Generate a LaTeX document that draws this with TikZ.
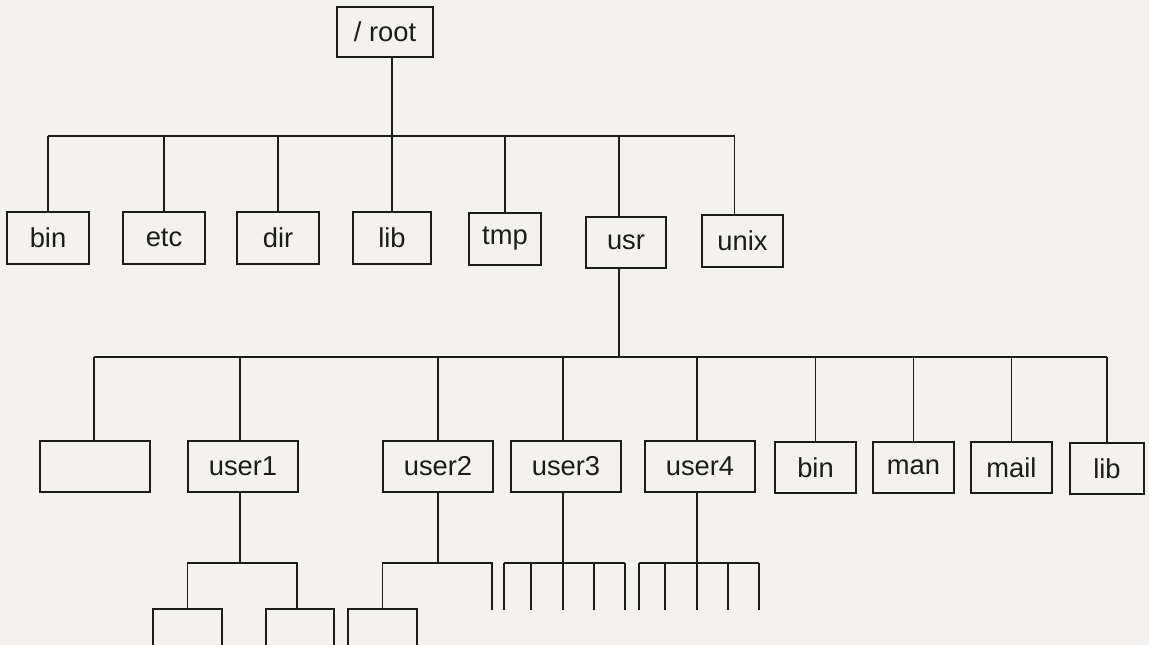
\documentclass[tikz,border=0pt]{standalone}
\usepackage{fontspec}
\setmainfont{Liberation Sans}
\usetikzlibrary{calc}
\definecolor{paper}{RGB}{243,242,239}
\definecolor{ink}{RGB}{28,28,28}
\tikzset{
  tbox/.style={draw=ink, line width=1.4pt, inner sep=0pt, text=ink,
    font=\fontsize{20.5}{24}\selectfont},
  wire/.style={draw=ink, line width=1.4pt},
}
\newcommand{\tbox}[6]{\node[tbox, minimum width={(#4-#2)*0.75pt}, minimum height={(#5-#3)*0.75pt}] (#1) at ({(#2+#4)/2},{(#3+#5)/2}) {#6};}
\begin{document}
\begin{tikzpicture}[x=0.75pt,y=-0.75pt]
\fill[paper] (0,0) rectangle (1149,645);
\useasboundingbox (0,0) rectangle (1149,645);
\clip (0,0) rectangle (1149,645);
% bus levels
\coordinate (busA) at (0,136);
\coordinate (busB) at (0,357);
\coordinate (busC) at (0,563);
\coordinate (endC) at (0,610);
% root
\tbox{root}{337}{7}{433}{57}{/ root}
% first row
\tbox{bin}{7}{212}{89}{264}{bin}
\tbox{etc}{123}{212}{205}{264}{etc}
\tbox{dir}{237}{212}{319}{264}{dir}
\tbox{lib}{353}{212}{431}{264}{lib}
\tbox{tmp}{469}{213}{541}{265}{tmp}
\tbox{usr}{586}{217}{666}{268}{usr}
\tbox{unix}{702}{215}{783}{267}{unix}
% second row
\tbox{blank}{40}{441}{150}{492}{}
\tbox{userA}{188}{441}{298}{492}{user1}
\tbox{userB}{383}{441}{493}{492}{user2}
\tbox{userC}{511}{441}{621}{492}{user3}
\tbox{userD}{645}{441}{755}{492}{user4}
\tbox{binB}{775}{442}{856}{493}{bin}
\tbox{man}{873}{442}{954}{493}{man}
\tbox{mail}{971}{442}{1052}{493}{mail}
\tbox{libB}{1070}{443}{1144}{494}{lib}
% third row (cut by the page edge)
\tbox{leafA}{153}{609}{222}{690}{}
\tbox{leafB}{266}{609}{334}{690}{}
\tbox{leafC}{348}{609}{417}{690}{}
% root to first row
\draw[wire] (root.south -| lib.north) -- (lib.north);
\draw[wire] (bin.north |- busA) -- ([xshift=-6pt]unix.north |- busA);
\foreach \n in {bin,etc,dir,tmp}{\draw[wire] (\n.north |- busA) -- (\n.north);}
\draw[wire] ([xshift=-5pt]usr.north |- busA) -- ([xshift=-5pt]usr.north);
\draw[wire] ([xshift=-6pt]unix.north |- busA) -- ([xshift=-6pt]unix.north);
% usr to second row
\draw[wire] ([xshift=-5pt]usr.south) -- ([xshift=-5pt]usr.south |- busB);
\draw[wire] ([xshift=-1pt]blank.north |- busB) -- (libB.north |- busB);
\draw[wire] ([xshift=-1pt]blank.north |- busB) -- ([xshift=-1pt]blank.north);
\draw[wire] ([xshift=-2pt]userA.north |- busB) -- ([xshift=-2pt]userA.north);
\draw[wire] (userB.north |- busB) -- (userB.north);
\draw[wire] ([xshift=-2pt]userC.north |- busB) -- ([xshift=-2pt]userC.north);
\draw[wire] ([xshift=-2pt]userD.north |- busB) -- ([xshift=-2pt]userD.north);
\foreach \n in {binB,man,mail,libB}{\draw[wire] (\n.north |- busB) -- (\n.north);}
% user1 subtree
\draw[wire] ([xshift=-2pt]userA.south) -- ([xshift=-2pt]userA.south |- busC);
\draw[wire] (leafA.north) -- (leafA.north |- busC) -- ([xshift=-2pt]leafB.north |- busC) -- ([xshift=-2pt]leafB.north);
% user2 subtree
\draw[wire] (userB.south) -- (userB.south |- busC);
\coordinate (uBend) at (492,563);
\coordinate (uBdrop) at (492,610);
\draw[wire] (leafC.north) -- (leafC.north |- busC) -- (uBend) -- (uBdrop);
% user3 subtree
\draw[wire] ([xshift=-2pt]userC.south) -- ([xshift=-2pt]userC.south |- endC);
\coordinate (cL) at (504,563);
\coordinate (cR) at (625,563);
\draw[wire] (cL) -- (cR);
\foreach \x in {504,531,594,625}{\draw[wire] (\x,563) -- (\x,610);}
% user4 subtree
\draw[wire] ([xshift=-2pt]userD.south) -- ([xshift=-2pt]userD.south |- endC);
\coordinate (dL) at (639,563);
\coordinate (dR) at (759,563);
\draw[wire] (dL) -- (dR);
\foreach \x in {639,665,728,759}{\draw[wire] (\x,563) -- (\x,610);}
\end{tikzpicture}
\end{document}
